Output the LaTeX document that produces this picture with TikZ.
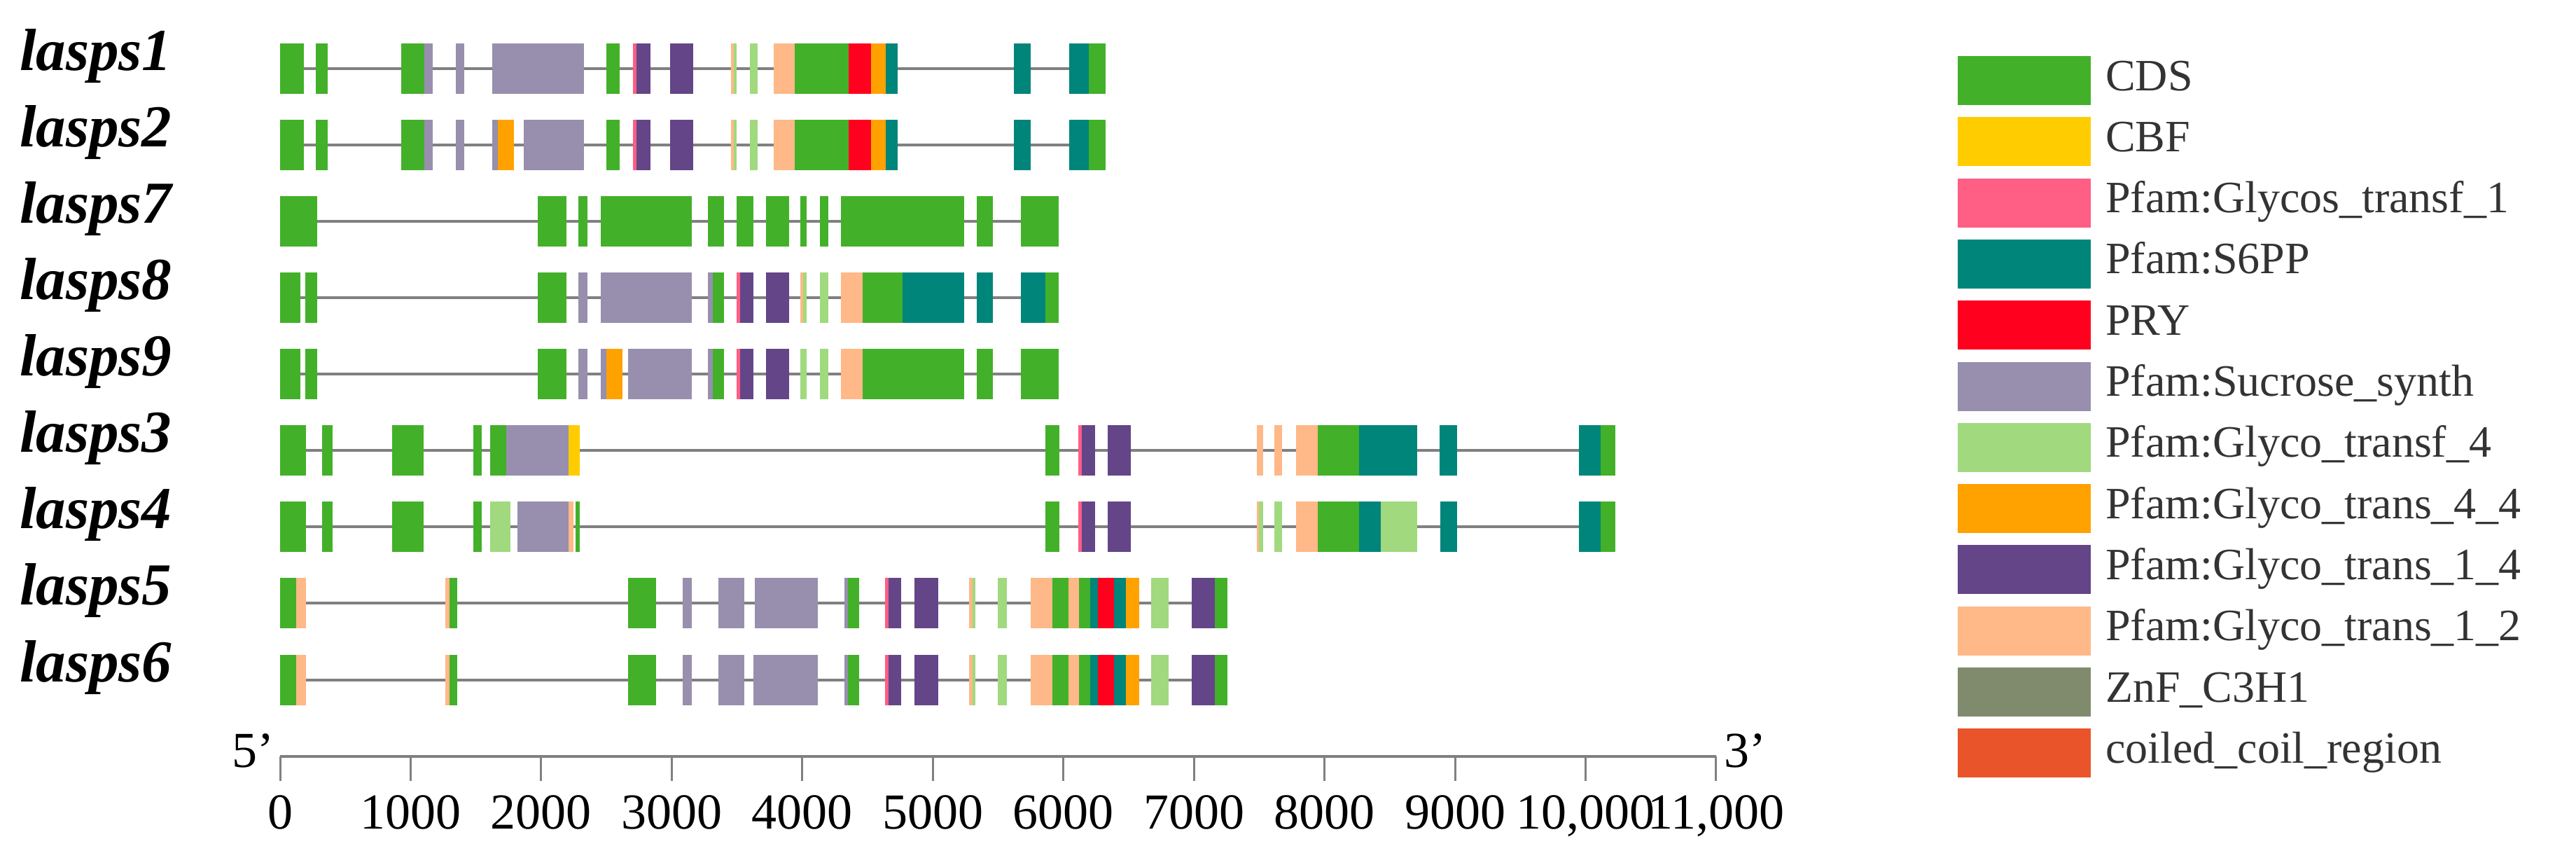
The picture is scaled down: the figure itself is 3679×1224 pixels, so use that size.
\documentclass[tikz,border=0pt]{standalone}
\usepackage{fontspec}
\setmainfont{Liberation Serif}
\definecolor{G}{HTML}{43B02A}
\definecolor{Y}{HTML}{FFCC00}
\definecolor{P}{HTML}{FF5E85}
\definecolor{T}{HTML}{00857A}
\definecolor{R}{HTML}{FF001E}
\definecolor{S}{HTML}{978FAD}
\definecolor{L}{HTML}{A0D97E}
\definecolor{O}{HTML}{FFA200}
\definecolor{U}{HTML}{644588}
\definecolor{K}{HTML}{FFB887}
\definecolor{Z}{HTML}{808B6E}
\definecolor{C}{HTML}{E9542A}
\definecolor{txt}{HTML}{333333}
\tikzset{
  intron/.style={line width=4pt,color=gray},
  glab/.style={anchor=base west,inner sep=0pt,font=\fontsize{85}{90}\selectfont\bfseries\itshape},
  num/.style={anchor=base,inner sep=0pt,font=\fontsize{72}{76}\selectfont},
  leg/.style={anchor=base west,inner sep=0pt,text=txt,font=\fontsize{64}{70}\selectfont},
}
\newcommand{\gene}[4]{% name, y, end, list
  \node[glab] (lab#1) at (28,#2+2) {lasps#1};
  \begin{scope}[x=1.2117pt,y=-1pt]
    \draw[intron] (330,#2) -- (#3,#2);
    \foreach \a/\b/\c in {#4} \fill[\c] (\a,#2-36) rectangle (\b,#2+36);
  \end{scope}}
\begin{document}
\begin{tikzpicture}[x=1pt,y=-1pt]
\useasboundingbox[fill=white] (0,0) rectangle (3679,1224);
\gene{1}{98}{1303}{330/358/G,372/386/G,473/500/G,500/510/S,537/547/S,580/688/S,715/730/G,746/750/P,750/767/U,790/817/U,862/865/K,865/868/L,884/893/L,912/937/K,937/1000/G,1000/1027/R,1027/1044/O,1044/1058/T,1195/1215/T,1260/1283/T,1283/1303/G}
\gene{2}{207}{1303}{330/358/G,372/386/G,473/500/G,500/510/S,537/547/S,580/587/S,587/606/O,617/688/S,715/730/G,746/750/P,750/767/U,790/817/U,862/865/K,865/868/L,884/893/L,912/937/K,937/1000/G,1000/1027/R,1027/1044/O,1044/1058/T,1195/1215/T,1260/1283/T,1283/1303/G}
\gene{7}{316}{1248}{330/374/G,634/668/G,682/692/G,708/815/G,834/853/G,868/888/G,903/930/G,943/951/G,966/976/G,991/1136/G,1151/1170/G,1203/1248/G}
\gene{8}{425}{1248}{330/354/G,360/374/G,634/668/G,682/692/S,708/815/S,834/840/S,840/853/G,868/872/P,872/888/U,903/930/U,943/947/K,947/951/L,966/976/L,991/1017/K,1017/1064/G,1064/1136/T,1151/1170/T,1203/1232/T,1232/1248/G}
\gene{9}{534}{1248}{330/354/G,360/374/G,634/668/G,682/692/S,708/715/S,715/734/O,740/815/S,834/840/S,840/853/G,868/872/P,872/888/U,903/930/U,943/951/L,966/976/L,991/1017/K,1017/1136/G,1151/1170/G,1203/1248/G}
\gene{3}{643}{1904}{330/361/G,380/392/G,462/499/G,558/568/G,578/597/G,597/670/S,670/683/Y,1232/1249/G,1271/1275/P,1275/1291/U,1306/1333/U,1481/1489/K,1502/1511/K,1528/1553/K,1553/1602/G,1602/1670.5/T,1697/1717/T,1860.6/1886.4/T,1886.4/1904/G}
\gene{4}{752}{1904}{330/361/G,380/392/G,462/499/G,558/568/G,578/602/L,610/670/S,670/676/K,678/683/G,1232/1249/G,1271/1275/P,1275/1291/U,1306/1333/U,1481/1484/K,1484/1489/L,1502/1511/L,1528/1553/K,1553/1602/G,1602/1627.7/T,1627.7/1670.5/L,1697.7/1717/T,1860.6/1886.4/T,1886.4/1904/G}
\gene{5}{861}{1447}{330/349/G,349/361/K,525/530/K,530/539/G,740/773/G,805/815/S,847/877/S,890/964/S,995/999/S,999/1013/G,1043/1047/P,1047/1062/U,1078/1106/U,1142/1146/K,1146/1150/L,1176/1187/L,1215/1240/K,1240/1259/G,1259/1272/K,1272/1285/G,1285/1294/T,1294/1313/R,1313/1327/T,1327/1343/O,1357/1377/L,1405/1432/U,1432/1447/G}
\gene{6}{971}{1447}{330/349/G,349/361/K,525/530/K,530/539/G,740/773/G,805/815/S,847/877/S,888/964/S,995/999/S,999/1013/G,1043/1047/P,1047/1062/U,1078/1106/U,1142/1146/K,1146/1150/L,1176/1187/L,1215/1240/K,1240/1259/G,1259/1272/K,1272/1285/G,1285/1294/T,1294/1313/R,1313/1327/T,1327/1343/O,1357/1377/L,1405/1432/U,1432/1447/G}
% axis
\coordinate (a0) at (400,1080);
\coordinate (a1) at (2451,1080);
\draw[line width=4pt,gray] (a0) -- (a1);
\foreach \i/\t in {0/0,1/1000,2/2000,3/3000,4/4000,5/5000,6/6000,7/7000,8/8000,9/9000,10/{10,000},11/{11,000}}{
  \draw[line width=3pt,gray] (400+186.45*\i,1080) -- (400+186.45*\i,1115);
  \node[num] (t\i) at (400+186.45*\i,1183) {\t};
}
\node[num,anchor=base east] (five) at (392,1095) {5'};
\node[num,anchor=base west] (three) at (2462,1095) {3'};
% legend
\foreach \c/\t [count=\i from 0] in {G/CDS,Y/CBF,P/Pfam:Glycos\_transf\_1,T/Pfam:S6PP,R/PRY,S/Pfam:Sucrose\_synth,L/Pfam:Glyco\_transf\_4,O/Pfam:Glyco\_trans\_4\_4,U/Pfam:Glyco\_trans\_1\_4,K/Pfam:Glyco\_trans\_1\_2,Z/ZnF\_C3H1,C/coiled\_coil\_region}{
  \fill[\c] (2796,80+87.3*\i) rectangle (2986,150+87.3*\i);
  \node[leg] (leg\i) at (3007,129+87.3*\i) {\t};
}
\end{tikzpicture}
\end{document}
